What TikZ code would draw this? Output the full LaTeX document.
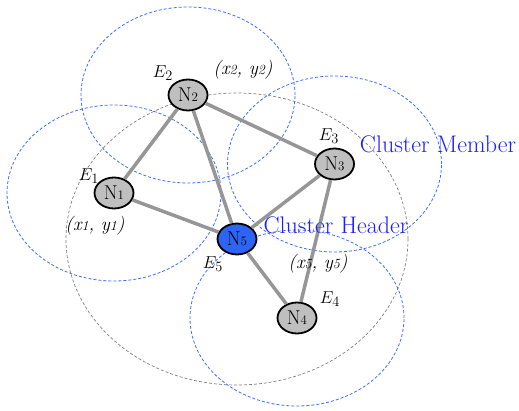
\documentclass[tikz,border=0pt]{standalone}
\usetikzlibrary{shapes.geometric}
\definecolor{rangeblue}{RGB}{60,110,255}
\definecolor{headblue}{RGB}{45,100,245}
\definecolor{noteblue}{RGB}{30,30,250}
\definecolor{linkgray}{RGB}{150,150,150}
\tikzset{
  sensor/.style={ellipse, draw=black, line width=1.8pt, fill=gray!50,
    minimum width=39pt, minimum height=31pt, inner sep=0pt,
    font=\fontsize{20}{22}\selectfont},
  header/.style={sensor, fill=headblue},
  link/.style={draw=linkgray, line width=3.5pt},
  txrange/.style={draw=rangeblue, densely dashed, line width=0.8pt},
  lbl/.style={font=\fontsize{19}{22}\selectfont},
  note/.style={text=noteblue, font=\fontsize{24}{26}\selectfont},
}
\newcommand{\nid}[1]{N{\fontsize{13}{14}\selectfont #1}}
\newcommand{\ecl}[1]{$E_{#1}$}
\newcommand{\pos}[1]{\textit{(x{\fontsize{14}{15}\selectfont #1},\ y{\fontsize{14}{15}\selectfont #1})}}
\begin{document}
\begin{tikzpicture}[x=1pt,y=1pt]
      \useasboundingbox (0,0) rectangle (519,410);
      % node positions
      \coordinate (p1) at (114,217);
      \coordinate (p2) at (188,315);
      \coordinate (p3) at (334.5,246);
      \coordinate (p4) at (297,92);
      \coordinate (p5) at (237,171);
      % transmission ranges
      \draw[draw=gray, densely dashed, line width=0.7pt] (p5) ellipse (171 and 146);
      \foreach \i in {1,...,4}
        \draw[txrange] (p\i) ellipse (107 and 88);
      % sensor nodes
      \node[sensor] (N1) at (p1) {\nid{1}};
      \node[sensor] (N2) at (p2) {\nid{2}};
      \node[sensor] (N3) at (p3) {\nid{3}};
      \node[sensor] (N4) at (p4) {\nid{4}};
      \node[header] (N5) at (p5) {\nid{5}};
      % links
      \draw[link] (N1) -- (N2);
      \draw[link] (N2) -- (N3);
      \draw[link] (N2) -- (N5);
      \draw[link] (N1) -- (N5);
      \draw[link] (N3) -- (N5);
      \draw[link] (N3) -- (N4);
      \draw[link] (N5) -- (N4);
      % labels
      \node[lbl] (e1) at (89,234) {\ecl{1}};
      \node[lbl] (e2) at (163,337) {\ecl{2}};
      \node[lbl] (e3) at (329,274) {\ecl{3}};
      \node[lbl] (e4) at (330,111) {\ecl{4}};
      \node[lbl] (e5) at (213,146) {\ecl{5}};
      \node[lbl] (c1) at (95,184) {\pos{1}};
      \node[lbl] (c2) at (243,340) {\pos{2}};
      \node[lbl] (c5) at (318,146) {\pos{5}};
      \node[note] (member) at (438,266) {Cluster Member};
      \node[note] (head) at (336,185) {Cluster Header};
    \end{tikzpicture}
\end{document}
